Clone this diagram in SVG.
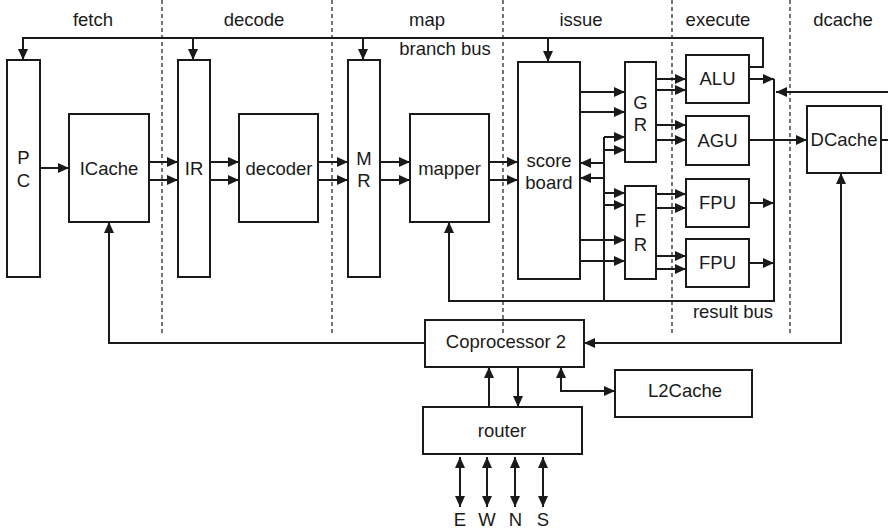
<svg xmlns="http://www.w3.org/2000/svg" width="888" height="531" viewBox="0 0 888 531">
<style>
.box{fill:#fff;stroke:#1a1a1a;stroke-width:2}
.t{font-family:"Liberation Sans",Arial,sans-serif;font-size:18.5px;fill:#1a1a1a;text-anchor:middle}
.c{fill:none;stroke:#1a1a1a;stroke-width:2}
.a{marker-end:url(#ah)}
.b{marker-start:url(#ah);marker-end:url(#ah)}
.d{fill:none;stroke:#1a1a1a;stroke-width:1.2;stroke-dasharray:4 3}
</style>
<defs>
<marker id="ah" markerUnits="userSpaceOnUse" markerWidth="11" markerHeight="10" refX="11" refY="5" orient="auto-start-reverse">
<path d="M0,0 L11,5 L0,10 z" fill="#1a1a1a"/>
</marker>
</defs>
<rect width="888" height="531" fill="#fff"/>
<g id="stage-labels">
<text class="t" x="93" y="26">fetch</text>
<text class="t" x="254" y="26">decode</text>
<text class="t" x="427" y="26">map</text>
<text class="t" x="581" y="26">issue</text>
<text class="t" x="718" y="26">execute</text>
<text class="t" x="843" y="26">dcache</text>
<text class="t" x="445" y="55">branch bus</text>
<text class="t" x="733" y="318">result bus</text>
</g>
<g id="connectors">
<path class="c a" d="M749,67H763V38H23V60"/>
<path class="c a" d="M193,38V60"/>
<path class="c a" d="M363,38V60"/>
<path class="c a" d="M548,38V62"/>
<path class="c a" d="M40,168H69"/>
<path class="c a" d="M149,162H178"/>
<path class="c a" d="M149,180H178"/>
<path class="c a" d="M210,162H239"/>
<path class="c a" d="M210,180H239"/>
<path class="c a" d="M318,162H348"/>
<path class="c a" d="M318,180H348"/>
<path class="c a" d="M380,162H410"/>
<path class="c a" d="M380,180H410"/>
<path class="c a" d="M489,162H518"/>
<path class="c a" d="M489,180H518"/>
<path class="c a" d="M580,92H625"/>
<path class="c a" d="M580,112H625"/>
<path class="c a" d="M580,240H625"/>
<path class="c a" d="M580,261H625"/>
<path class="c" d="M604,137V301"/>
<path class="c a" d="M604,137H625"/>
<path class="c a" d="M604,150H625"/>
<path class="c a" d="M604,163H580"/>
<path class="c a" d="M604,178H580"/>
<path class="c a" d="M604,193H625"/>
<path class="c a" d="M604,205H625"/>
<path class="c a" d="M774,79V301H449V222"/>
<path class="c a" d="M656,79H686"/>
<path class="c a" d="M656,90H686"/>
<path class="c a" d="M656,125H686"/>
<path class="c a" d="M656,140H686"/>
<path class="c a" d="M656,194H686"/>
<path class="c a" d="M656,208H686"/>
<path class="c a" d="M656,256H686"/>
<path class="c a" d="M656,269H686"/>
<path class="c a" d="M749,79H774"/>
<path class="c a" d="M749,203H774"/>
<path class="c a" d="M749,263H774"/>
<path class="c a" d="M749,140H807"/>
<path class="c" d="M881,140H888"/>
<path class="c a" d="M888,92H776"/>
<path class="c b" d="M584,343H841V173"/>
<path class="c a" d="M425,343H109V222"/>
<path class="c a" d="M489,407V367"/>
<path class="c a" d="M518,367V407"/>
<path class="c b" d="M561,367V391H615"/>
<path class="c b" d="M460,457V507"/>
<path class="c b" d="M487,457V507"/>
<path class="c b" d="M515,457V507"/>
<path class="c b" d="M543,457V507"/>
</g>
<g id="pc"><rect class="box" x="7" y="60" width="33" height="217"/><text class="t" x="23.5" y="164">P</text><text class="t" x="23.5" y="187">C</text></g>
<g id="icache"><rect class="box" x="69" y="114" width="80" height="108"/><text class="t" x="109" y="175">ICache</text></g>
<g id="ir"><rect class="box" x="178" y="60" width="32" height="217"/><text class="t" x="194" y="175">IR</text></g>
<g id="decoder"><rect class="box" x="239" y="114" width="79" height="108"/><text class="t" x="279" y="175">decoder</text></g>
<g id="mr"><rect class="box" x="348" y="60" width="32" height="217"/><text class="t" x="364" y="165">M</text><text class="t" x="364" y="187">R</text></g>
<g id="mapper"><rect class="box" x="410" y="114" width="79" height="108"/><text class="t" x="449.5" y="175">mapper</text></g>
<g id="scoreboard"><rect class="box" x="518" y="62" width="62" height="217"/><text class="t" x="549" y="167">score</text><text class="t" x="549" y="189">board</text></g>
<g id="gr"><rect class="box" x="625" y="62" width="31" height="100"/><text class="t" x="640.5" y="109">G</text><text class="t" x="640.5" y="131">R</text></g>
<g id="fr"><rect class="box" x="625" y="186" width="31" height="93"/><text class="t" x="640.5" y="227">F</text><text class="t" x="640.5" y="251">R</text></g>
<g id="alu"><rect class="box" x="686" y="55" width="63" height="48"/><text class="t" x="717.5" y="85">ALU</text></g>
<g id="agu"><rect class="box" x="686" y="116" width="63" height="49"/><text class="t" x="717.5" y="147">AGU</text></g>
<g id="fpu1"><rect class="box" x="686" y="179" width="63" height="48"/><text class="t" x="717.5" y="209">FPU</text></g>
<g id="fpu2"><rect class="box" x="686" y="239" width="63" height="48"/><text class="t" x="717.5" y="269">FPU</text></g>
<g id="dcache"><rect class="box" x="807" y="106" width="74" height="67"/><text class="t" x="844" y="146">DCache</text></g>
<g id="coprocessor2"><rect class="box" x="425" y="320" width="159" height="47"/><text class="t" x="506" y="348">Coprocessor 2</text></g>
<g id="router"><rect class="box" x="423" y="407" width="159" height="47"/><text class="t" x="502" y="437">router</text></g>
<g id="l2cache"><rect class="box" x="615" y="370" width="137" height="47"/><text class="t" x="685" y="397">L2Cache</text></g>
<g id="ports">
<text class="t" x="460" y="526">E</text>
<text class="t" x="487" y="526">W</text>
<text class="t" x="515.5" y="526">N</text>
<text class="t" x="543" y="526">S</text>
</g>
<g id="stage-dividers">
<path class="d" d="M162,0V335M332,0V335M503,0V335M672,0V335M790,0V335"/>
</g>
</svg>
